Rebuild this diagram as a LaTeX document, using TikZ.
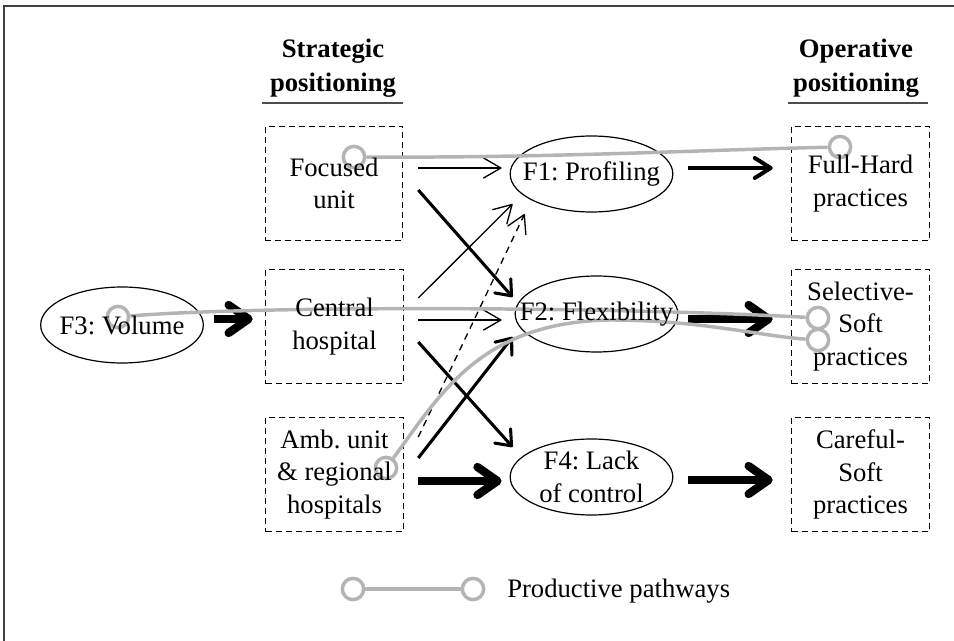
\documentclass[tikz,border=0pt]{standalone}
\usepackage{fontspec}
\setmainfont{Liberation Serif}
\usetikzlibrary{arrows.meta,calc,shapes.geometric}
\definecolor{pathgray}{RGB}{180,180,180}
\frenchspacing
\begin{document}
\begin{tikzpicture}[x=0.75pt,y=-0.75pt,
  every node/.style={font=\fontsize{20}{24.5}\selectfont},
  frameline/.style={draw=black!75, line width=1.1pt},
  headline/.style={draw=black!70, line width=1.3pt},
  heading/.style={font=\fontsize{20}{24.5}\selectfont\bfseries, anchor=base, inner sep=0pt},
  posbox/.style={draw, dash pattern=on 4.5pt off 3pt, line width=0.9pt,
    minimum width=103pt, minimum height=86pt, inner sep=0pt},
  factor/.style={draw, ellipse, line width=0.9pt, minimum width=122pt,
    minimum height=57pt, inner sep=0pt},
  label text/.style={align=center, inner sep=0pt},
  arrthin/.style={line width=1pt, -{Straight Barb[length=13pt,width=15pt,round]}},
  arrmed/.style={line width=2.3pt, -{Straight Barb[length=10pt,width=16pt,round]}},
  arrmid/.style={line width=3pt, -{Straight Barb[length=12pt,width=15pt,round]}},
  arrbig/.style={line width=6.2pt, -{Straight Barb[length=15pt,width=21pt,round]}},
  pway/.style={draw=pathgray, line width=2.6pt},
  pend/.style={circle, draw=pathgray, line width=2.6pt, minimum size=16pt, inner sep=0pt},
]
\useasboundingbox (0,0) rectangle (954,641);

% outer frame (top and left edges)
\draw[frameline] (4,641) -- (4,6) -- (954,6);

% column headings
\node[heading] (sh1) at (333,58) {Strategic};
\node[heading] (sh2) at (333,91.5) {positioning};
\draw[headline] (262,103) -- (403,103);
\node[heading] (oh1) at (856,58) {Operative};
\node[heading] (oh2) at (856,91.5) {positioning};
\draw[headline] (788,103) -- (928,103);

% strategic positioning boxes
\node[posbox] (foc) at (334,183.5) {};
\node[posbox] (cen) at (334.5,326.5) {};
\node[posbox] (amb) at (334.5,474.5) {};

% operative positioning boxes
\node[posbox] (fh) at (860.5,183.5) {};
\node[posbox] (ss) at (860.5,326.5) {};
\node[posbox] (cs) at (860.5,474.5) {};

% factors
\node[factor] (f1) at (591.5,174) {};
\node[factor] (f2) at (596.5,314) {};
\node[factor] (f3) at (122,325) {};
\node[factor] (f4) at (591.5,477) {};

% effects
\draw[arrbig] ($(f3.east)+(10,-6)$) -- ($(cen.west)+(-12.5,-7.5)$);
\draw[arrthin] ($(foc.east)+(15,-15.5)$) -- ($(f1.west)+(-8,-6)$);
\draw[arrmed] ($(foc.east)+(15,6.5)$) -- ($(f2.west)+(-2,-17)$);
\draw[arrthin] ($(cen.east)+(14.5,-28.5)$) -- ($(f1.west)+(3,30)$);
\draw[arrthin] ($(cen.east)+(14.5,-6.5)$) -- ($(f2.west)+(-13,6)$);
\draw[arrmed] ($(cen.east)+(14.5,15.5)$) -- ($(f4.west)+(3,-30)$);
\draw[arrmed] ($(amb.east)+(14.5,-16.5)$) -- ($(f2.west)+(-2,23)$);
\draw[arrthin, dash pattern=on 5pt off 4pt] ($(amb.east)+(14.5,-37.5)$) -- ($(f1.west)+(15,40)$);
\draw[arrbig] ($(amb.east)+(14.5,6.5)$) -- ($(f4.west)+(-8,4)$);
\draw[arrmid] ($(f1.east)+(15,-6)$) -- ($(fh.west)+(-18.5,-15.5)$);
\draw[arrbig] ($(f2.east)+(10,5)$) -- ($(ss.west)+(-18.5,-7.5)$);
\draw[arrbig] ($(f4.east)+(15,3)$) -- ($(cs.west)+(-18.5,5.5)$);

% productive pathways
\node[pend] (pc1) at (354,157) {};
\node[pend] (pc2) at (840,147) {};
\node[pend] (pc3) at (118,317) {};
\node[pend] (pc4) at (818,318) {};
\node[pend] (pc5) at (386,468) {};
\node[pend] (pc6) at (818,340) {};
\draw[pway] (pc1) .. controls (550,158) and (700,150) .. (pc2);
\draw[pway] (pc3) .. controls (250,306) and (600,306) .. (pc4);
\draw[pway] (pc5) .. controls (440,395) and (480,322) .. (610,320)
  .. controls (700,320) and (760,336) .. (pc6);

% texts, set over the pathways
\node[label text] (foct) at (foc) {Focused\\unit};
\node[label text] (cent) at (cen) {Central\\hospital};
\node[label text] (ambt) at (amb) {Amb. unit\\\& regional\\hospitals};
\node[label text] (fht) at (fh) {Full-Hard\\practices};
\node[label text] (sst) at (ss) {Selective-\\Soft\\practices};
\node[label text] (cst) at (cs) {Careful-\\Soft\\practices};
\node[label text] (f1t) at (f1) {F1: Profiling};
\node[label text] (f2t) at (f2) {F2: Flexibility};
\node[label text] (f3t) at (f3) {F3: Volume};
\node[label text] (f4t) at (f4) {F4: Lack\\of control};

% legend
\node[pend] (lc1) at (353,589) {};
\node[pend] (lc2) at (473,589) {};
\draw[pway] (lc1) -- (lc2);
\node[anchor=base west, inner sep=0pt] (legtxt) at (507,598) {Productive pathways};
\end{tikzpicture}
\end{document}
